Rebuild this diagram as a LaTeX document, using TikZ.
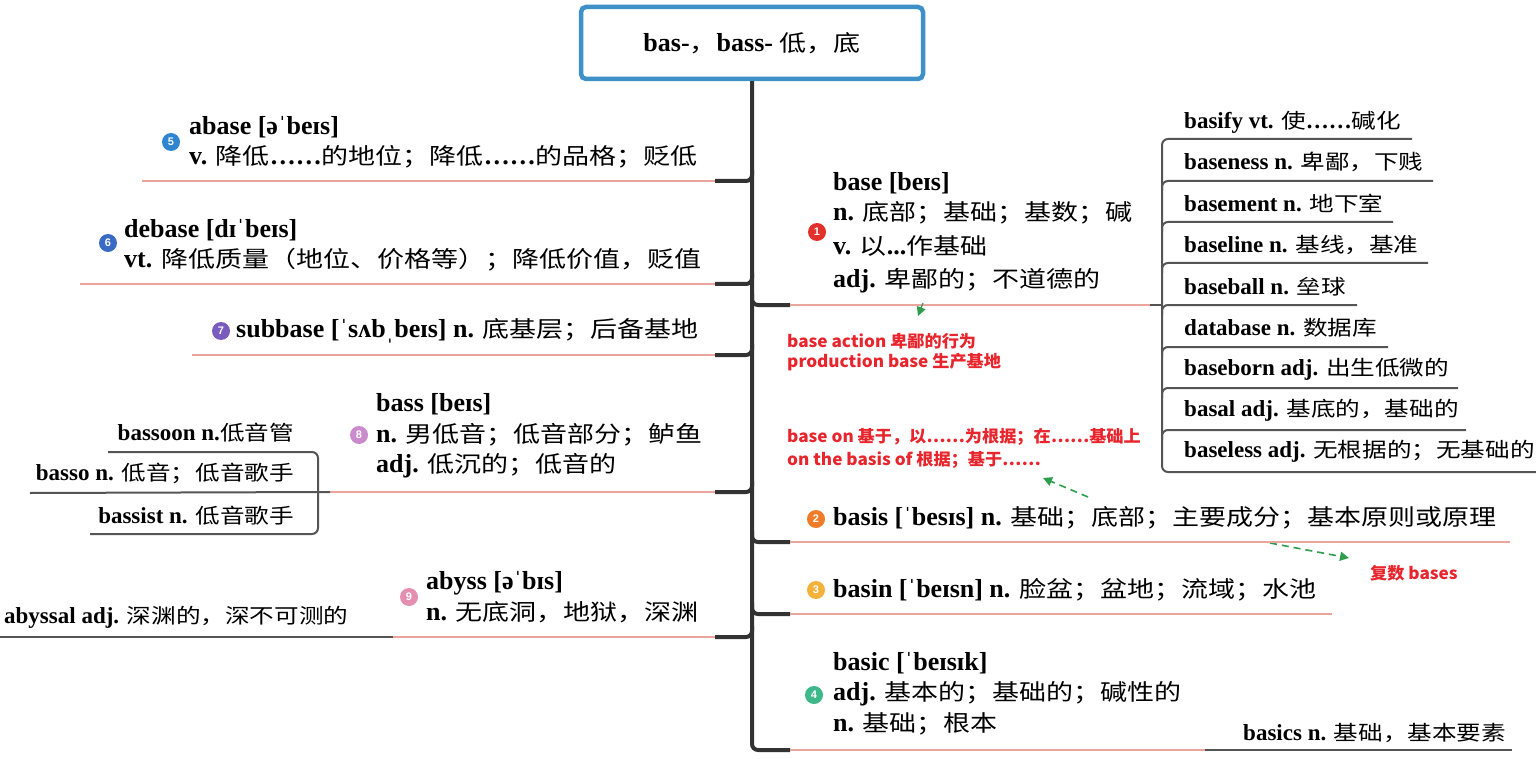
\documentclass[tikz,border=0pt]{standalone}
\usepackage{fontspec}
\setmainfont{Liberation Serif}
\newfontfamily\cjkf{Noto Sans CJK SC}[FakeStretch=1.2]
\newfontfamily\redf{Noto Sans CJK SC}[FakeStretch=1.04]
\newfontfamily\badgef{Liberation Sans}
\usetikzlibrary{calc,arrows.meta}
\newcommand\zh[1]{{\cjkf\mdseries\fontsize{22.5}{28}\selectfont #1}}
\newcommand\zc[1]{{\cjkf\mdseries\fontsize{20.5}{26}\selectfont #1}}
\definecolor{spine}{HTML}{333333}
\definecolor{pinkline}{HTML}{EBA59D}
\definecolor{titleblue}{HTML}{3E90C8}
\definecolor{redtxt}{HTML}{E8242C}
\definecolor{arrowgreen}{HTML}{2E9E4E}
\definecolor{childline}{HTML}{555555}
\definecolor{bA}{HTML}{E2302A}
\definecolor{bB}{HTML}{F07B28}
\definecolor{bC}{HTML}{F4B23A}
\definecolor{bD}{HTML}{3DB88A}
\definecolor{bE}{HTML}{2E86D1}
\definecolor{bF}{HTML}{3A6BC4}
\definecolor{bG}{HTML}{7A5BBE}
\definecolor{bH}{HTML}{C98BCB}
\definecolor{bI}{HTML}{E48FB0}
\tikzset{
  txt/.style={anchor=west, inner sep=0pt, font=\fontsize{26}{30}\selectfont\bfseries},
  ctxt/.style={anchor=west, inner sep=0pt, font=\fontsize{23}{27}\selectfont\bfseries},
  ctxtE/.style={ctxt, anchor=east},
  redlabel/.style={anchor=west, inner sep=0pt, text=redtxt, font=\redf\bfseries\fontsize{16.5}{20}\selectfont},
  badge/.style={circle, minimum size=18pt, inner sep=0pt, text=white, font=\badgef\bfseries\fontsize{11}{11}\selectfont},
  spineline/.style={line width=4pt, draw=spine, rounded corners=6pt},
  stub/.style={line width=4pt, draw=spine, rounded corners=6pt},
  uline/.style={line width=1.3pt, draw=pinkline},
  cline/.style={line width=2pt, draw=childline, rounded corners=6pt},
  garrow/.style={draw=arrowgreen, line width=1.6pt, dash pattern=on 7pt off 5pt, -{Triangle[length=9pt,width=9pt]}},
  gtip/.style={draw=arrowgreen, fill=arrowgreen, line width=1.2pt, -{Triangle[length=9pt,width=9pt]}},
}
\begin{document}
\begin{tikzpicture}[x=1pt,y=-1pt]
\fill[white] (0,0) rectangle (1536,759);
\useasboundingbox (0,0) rectangle (1536,759);

% title
\node[draw=titleblue, line width=4.5pt, rounded corners=5pt, minimum width=342pt, minimum height=72pt,
      inner sep=0pt, font=\fontsize{26}{30}\selectfont\bfseries] (title) at (752,43) {bas-\zh{，}bass- \zh{低，底}};

% spine
\coordinate (spineEnd) at (790,750);
\draw[spineline] (title.south) |- (spineEnd);

% ---------- left side ----------
\coordinate (jE) at (715,181);
\coordinate (jF) at (715,284);
\coordinate (jG) at (715,355);
\coordinate (jH) at (715,492);
\coordinate (jI) at (715,637);
\foreach \j in {jE,jF,jG,jH,jI} \draw[stub] (\j) -| ($(\j)+(37,-11)$);

% abase
\node[badge, fill=bE] (b5) at (171,142) {5};
\node[txt] (abaseA) at (189,127) {abase [əˈbeɪs]};
\node[txt] (abaseB) at (189,157) {v. \zh{降低}……\zh{的地位；降低}……\zh{的品格；贬低}};
\coordinate (uE) at (142,181);
\draw[uline] (uE) -- (jE);

% debase
\node[badge, fill=bF] (b6) at (108,243) {6};
\node[txt] (debaseA) at (124,230) {debase [dɪˈbeɪs]};
\node[txt] (debaseB) at (124,260) {vt. \zh{降低质量（地位、价格等）；降低价值，贬值}};
\coordinate (uF) at (80,284);
\draw[uline] (uF) -- (jF);

% subbase
\node[badge, fill=bG] (b7) at (221,331) {7};
\node[txt] (subbase) at (236,331) {subbase [ˈsʌbˌbeɪs] n. \zh{底基层；后备基地}};
\coordinate (uG) at (192,355);
\draw[uline] (uG) -- (jG);

% bass
\node[txt] (bassA) at (376,404) {bass [beɪs]};
\node[badge, fill=bH] (b8) at (359,435) {8};
\node[txt] (bassB) at (376,435) {n. \zh{男低音；低音部分；鲈鱼}};
\node[txt] (bassC) at (376,466) {adj. \zh{低沉的；低音的}};
\coordinate (uH) at (330,492);
\draw[uline] (uH) -- (jH);
\node[ctxtE] (bassoon) at (294,433) {bassoon n.\zc{低音管}};
\node[ctxtE] (basso) at (294,473) {basso n. \zc{低音；低音歌手}};
\node[ctxtE] (bassist) at (294,516) {bassist n. \zc{低音歌手}};
\coordinate (cBassoon) at (108,452);
\coordinate (cBassist) at (90,534);
\coordinate (cBasso) at (30,493);
\draw[cline] (cBassoon) -| (318,534) -- (cBassist);
\draw[cline] (cBasso) -- (uH);

% abyss
\node[badge, fill=bI] (b9) at (409,597) {9};
\node[txt] (abyssA) at (426,583) {abyss [əˈbɪs]};
\node[txt] (abyssB) at (426,612) {n. \zh{无底洞，地狱，深渊}};
\coordinate (uI) at (393,637);
\draw[uline] (uI) -- (jI);
\node[ctxt] (abyssal) at (4,617) {abyssal adj. \zc{深渊的，深不可测的}};
\coordinate (cAbyssal) at (0,637);
\draw[cline] (cAbyssal) -- (uI);

% ---------- right side ----------
\coordinate (kA) at (790,305);
\coordinate (kB) at (790,542);
\coordinate (kC) at (790,614);
\foreach \k in {kA,kB,kC} \draw[stub] ($(\k)+(-38,-11)$) |- (\k);

% base
\node[badge, fill=bA] (b1) at (817,232) {1};
\node[txt] (baseA) at (833,183) {base [beɪs]};
\node[txt] (baseB) at (833,213) {n. \zh{底部；基础；基数；碱}};
\node[txt] (baseC) at (833,246) {v. \zh{以}...\zh{作基础}};
\node[txt] (baseD) at (833,281) {adj. \zh{卑鄙的；不道德的}};
\coordinate (gA) at (1150,305);
\coordinate (brk) at (1162,305);
\draw[uline] (kA) -- (gA);
\draw[cline, rounded corners=0pt] (gA) -- (brk);

% bracket of derived words
\coordinate (dTop) at (1412,139);
\coordinate (dBot) at (1536,472);
\draw[cline] (dTop) -- (1162,139) -- (1162,472) -- (dBot);
\foreach \y/\e in {181/1433,222/1393,263/1428,305/1357,347/1388,388/1458,430/1466}
  \draw[cline] (1162,\y+10) |- (\e,\y);
\node[ctxt] (basify) at (1184,122) {basify vt. \zc{使}……\zc{碱化}};
\node[ctxt] (baseness) at (1184,162) {baseness n. \zc{卑鄙，下贱}};
\node[ctxt] (basement) at (1184,204) {basement n. \zc{地下室}};
\node[ctxt] (baseline) at (1184,245) {baseline n. \zc{基线，基准}};
\node[ctxt] (baseball) at (1184,287) {baseball n. \zc{垒球}};
\node[ctxt] (database) at (1184,328) {database n. \zc{数据库}};
\node[ctxt] (baseborn) at (1184,369) {baseborn adj. \zc{出生低微的}};
\node[ctxt] (basal) at (1184,410) {basal adj. \zc{基底的，基础的}};
\node[ctxt] (baseless) at (1184,451) {baseless adj. \zc{无根据的；无基础的}};

% red notes
\node[redlabel] (noteA) at (787,341) {base action 卑鄙的行为};
\node[redlabel] (noteB) at (787,362) {production base 生产基地};
\node[redlabel] (noteC) at (787,437) {base on 基于，以……为根据；在……基础上};
\node[redlabel] (noteD) at (787,460) {on the basis of 根据；基于……};
\node[redlabel] (noteE) at (1370,573) {复数 bases};
\coordinate (tipS) at (923,303);
\coordinate (tipE) at (918,316);
\draw[gtip] (tipS) -- (tipE);
\coordinate (arAs) at (1088,497);
\coordinate (arAe) at (1043,478);
\draw[garrow] (arAs) -- (arAe);
\coordinate (arBs) at (1270,543);
\coordinate (arBe) at (1349,558);
\draw[garrow] (arBs) -- (arBe);

% basis
\node[badge, fill=bB] (b2) at (816,519) {2};
\node[txt] (basis) at (833,518) {basis [ˈbesɪs] n. \zh{基础；底部；主要成分；基本原则或原理}};
\coordinate (uB) at (1510,542);
\draw[uline] (kB) -- (uB);

% basin
\node[badge, fill=bC] (b3) at (816,590) {3};
\node[txt] (basin) at (833,590) {basin [ˈbeɪsn] n. \zh{脸盆；盆地；流域；水池}};
\coordinate (uC) at (1332,614);
\draw[uline] (kC) -- (uC);

% basic
\node[badge, fill=bD] (b4) at (814,695) {4};
\node[txt] (basicA) at (833,663) {basic [ˈbeɪsɪk]};
\node[txt] (basicB) at (833,694) {adj. \zh{基本的；基础的；碱性的}};
\node[txt] (basicC) at (833,724) {n. \zh{基础；根本}};
\coordinate (uD) at (1205,750);
\coordinate (cBasics) at (1512,750);
\draw[uline] (spineEnd) -- (uD);
\draw[cline] (uD) -- (cBasics);
\node[ctxt] (basics) at (1243,733) {basics n. \zc{基础，基本要素}};
\end{tikzpicture}
\end{document}
